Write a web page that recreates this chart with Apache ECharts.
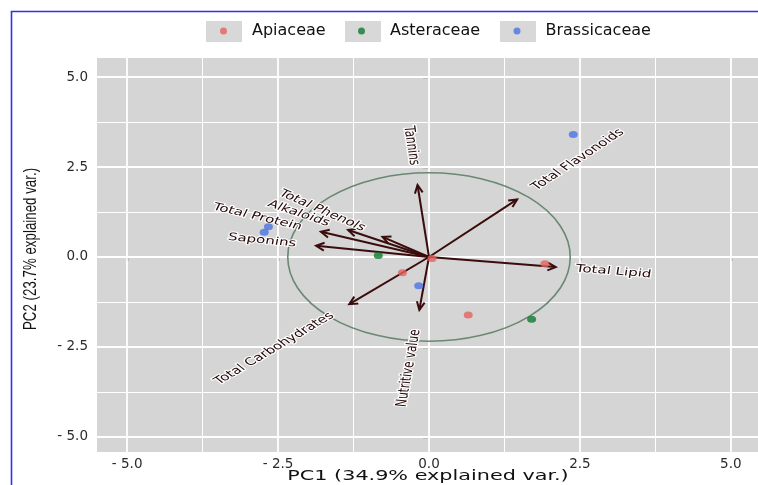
<!DOCTYPE html>
<html>
<head>
<meta charset="utf-8">
<script src="https://cdn.jsdelivr.net/npm/echarts@6/dist/echarts.min.js"></script>
<style>
  html, body { margin: 0; padding: 0; background: #ffffff; }
  #chart { width: 758px; height: 485px; }
</style>
</head>
<body>
<div id="chart"></div>
<script>
// PCA biplot of plant families: sample scores and variable loadings

const families = ['Apiaceae', 'Asteraceae', 'Brassicaceae'];
const familyColors = ['#e3625f', '#0c7a2e', '#4a74e2'];

// sample scores (PC1, PC2) per family
const apiaceaePC1 = [0.05, -0.44, 0.65, 1.92];
const apiaceaePC2 = [-0.04, -0.44, -1.61, -0.19];
const asteraceaePC1 = [-0.84, 1.70];
const asteraceaePC2 = [0.04, -1.73];
const brassicaceaePC1 = [2.39, -2.66, -2.73, -0.17];
const brassicaceaePC2 = [3.40, 0.84, 0.69, -0.80];

// variable loadings (arrow tips)
const variables = ['Tannins', 'Total Flavonoids', 'Total Lipid', 'Nutritive value',
  'Total Carbohydrates', 'Saponins', 'Total Protein', 'Alkaloids', 'Total Phenols'];
const loadingPC1 = [-0.19, 1.46, 2.10, -0.16, -1.32, -1.87, -1.79, -1.34, -0.77];
const loadingPC2 = [2.00, 1.60, -0.28, -1.47, -1.31, 0.31, 0.70, 0.75, 0.56];

// correlation circle radius
const circleRadius = 2.34;

// axis ticks
const majorTicks = [-5, -2.5, 0, 2.5, 5];
const minorTicks = [-3.75, -1.25, 1.25, 3.75];

const xTitle = 'PC1 (34.9% explained var.)';
const yTitle = 'PC2 (23.7% explained var.)';

const tickFormat = v => (v < 0 ? '- ' + Math.abs(v).toFixed(1) : v.toFixed(1));
const zip = (a, b) => a.map((v, i) => [v, b[i]]);

const scores = [
  zip(apiaceaePC1, apiaceaePC2),
  zip(asteraceaePC1, asteraceaePC2),
  zip(brassicaceaePC1, brassicaceaePC2)
];

const chart = echarts.init(document.getElementById('chart'), null, { renderer: 'canvas' });

const gridLines = [];
majorTicks.forEach(v => {
  gridLines.push({ xAxis: v, lineStyle: { width: 1.8 } });
  gridLines.push({ yAxis: v, lineStyle: { width: 1.8 } });
});
minorTicks.forEach(v => {
  gridLines.push({ xAxis: v, lineStyle: { width: 1.0 } });
  gridLines.push({ yAxis: v, lineStyle: { width: 1.0 } });
});

const legendCenters = [224.5, 362.5, 518];
const legends = families.map((name, i) => ({
  data: [{ name: name, icon: 'circle' }],
  left: legendCenters[i] - 4.5,
  top: 21,
  padding: 0,
  itemWidth: 9,
  itemHeight: 7,
  selectedMode: false,
  formatter: n => '{s|}' + n,
  textStyle: {
    fontFamily: 'DejaVu Sans',
    fontSize: 16,
    color: '#111111',
    lineHeight: 20,
    rich: { s: { width: 19, lineHeight: 20 } }
  }
}));

const keyBoxes = [206, 345, 500].map(x => ({
  type: 'rect',
  left: x,
  top: 21,
  z: -1,
  shape: { width: 36, height: 21 },
  style: { fill: '#d8d8d8' }
}));

function renderCircle(params, api) {
  const c = api.coord([0, 0]);
  const rx = api.size([circleRadius, 0])[0];
  const ry = api.size([0, circleRadius])[1];
  const d = 'M' + (c[0] - rx) + ' ' + c[1] +
    ' A' + rx + ' ' + ry + ' 0 1 0 ' + (c[0] + rx) + ' ' + c[1] +
    ' A' + rx + ' ' + ry + ' 0 1 0 ' + (c[0] - rx) + ' ' + c[1] + ' Z';
  return {
    type: 'path',
    shape: { pathData: d },
    style: { fill: 'none', stroke: '#6a8872', lineWidth: 1.6 }
  };
}

// labels are set a little wide and short, like the rest of the lettering
const labelScaleX = 1.12, labelScaleY = 0.78;
const arrowColor = '#3a0c0c';
function renderArrow(params, api) {
  const o = api.coord([0, 0]);
  const t = api.coord([api.value(0), api.value(1)]);
  const name = variables[api.value(2)];
  const dx = t[0] - o[0], dy = t[1] - o[1];
  const len = Math.sqrt(dx * dx + dy * dy);
  const ux = dx / len, uy = dy / len;
  const head = 9, ang = Math.PI / 7;
  const rot = (a) => [ux * Math.cos(a) - uy * Math.sin(a), ux * Math.sin(a) + uy * Math.cos(a)];
  const r1 = rot(ang), r2 = rot(-ang);
  const p1 = [t[0] - head * r1[0], t[1] - head * r1[1]];
  const p2 = [t[0] - head * r2[0], t[1] - head * r2[1]];
  // text reads along the arrow direction, starting just past the tip
  const gap = 20;
  const lx = t[0] + gap * ux, ly = t[1] + gap * uy;
  let theta = Math.atan2(-uy / labelScaleY, ux / labelScaleX);
  if (theta > Math.PI / 2) theta -= Math.PI;
  if (theta < -Math.PI / 2) theta += Math.PI;
  return {
    type: 'group',
    children: [
      {
        type: 'line',
        shape: { x1: o[0], y1: o[1], x2: t[0], y2: t[1] },
        style: { stroke: arrowColor, lineWidth: 2 }
      },
      {
        type: 'polyline',
        shape: { points: [p1, t, p2] },
        style: { stroke: arrowColor, lineWidth: 2, fill: 'none' }
      },
      {
        type: 'group',
        x: lx,
        y: ly,
        scaleX: labelScaleX,
        scaleY: labelScaleY,
        children: [{
          type: 'text',
          rotation: theta,
          style: {
            text: name,
            x: 0,
            y: 0,
            align: dx >= 0 ? 'left' : 'right',
            verticalAlign: 'middle',
            fill: '#250808',
            stroke: '#ffffff',
            lineWidth: 2.5,
            fontFamily: 'DejaVu Sans',
            fontSize: 13.5
          }
        }]
      }
    ]
  };
}

const option = {
  animation: false,
  backgroundColor: '#ffffff',
  legend: legends,
  graphic: keyBoxes.concat([
    {
      type: 'text',
      x: 31,
      y: 249,
      rotation: Math.PI / 2,
      scaleX: 0.74,
      silent: true,
      style: {
        text: yTitle,
        align: 'center',
        verticalAlign: 'middle',
        fontFamily: 'Liberation Sans',
        fontSize: 18,
        fill: '#111111'
      }
    },
    {
      type: 'text',
      x: 428,
      y: 476,
      scaleX: 1.22,
      scaleY: 0.86,
      silent: true,
      style: {
        text: xTitle,
        align: 'center',
        verticalAlign: 'middle',
        fontFamily: 'DejaVu Sans',
        fontSize: 17,
        fill: '#111111'
      }
    },
    {
      type: 'rect',
      left: 9,
      top: 9,
      z: 100,
      silent: true,
      shape: { width: 760, height: 490 },
      style: { fill: 'none', stroke: '#2f2ff5', lineWidth: 1.6 }
    }
  ]),
  grid: {
    left: 97,
    top: 58,
    width: 664,
    height: 394,
    outerBoundsMode: 'none',
    containLabel: false,
    show: true,
    backgroundColor: '#d5d5d5',
    borderWidth: 0
  },
  xAxis: {
    type: 'value',
    min: -5.5,
    max: 5.5,
    splitLine: { show: false },
    axisLine: { show: false },
    axisTick: {
      show: true,
      customValues: majorTicks,
      length: 4,
      lineStyle: { color: '#333333', width: 1.3 }
    },
    axisLabel: {
      customValues: majorTicks,
      formatter: tickFormat,
      margin: 5,
      fontFamily: 'DejaVu Sans',
      fontSize: 13.5,
      color: '#2a2a2a'
    }
  },
  yAxis: {
    type: 'value',
    min: -5.4167,
    max: 5.5278,
    splitLine: { show: false },
    axisLine: { show: false },
    axisTick: {
      show: true,
      customValues: majorTicks,
      length: 6,
      lineStyle: { color: '#333333', width: 1.3 }
    },
    axisLabel: {
      customValues: majorTicks,
      formatter: tickFormat,
      margin: 9,
      fontFamily: 'DejaVu Sans',
      fontSize: 13.5,
      color: '#2a2a2a'
    }
  },
  series: [
    {
      type: 'custom',
      name: 'circle',
      z: 2,
      silent: true,
      clip: false,
      data: [[0, 0]],
      renderItem: renderCircle,
      markLine: {
        z: 1,
        silent: true,
        symbol: 'none',
        label: { show: false },
        lineStyle: { color: '#ffffff', type: 'solid' },
        data: gridLines
      }
    },
    {
      type: 'custom',
      name: 'loadings',
      z: 3,
      silent: true,
      clip: false,
      data: variables.map((v, i) => [loadingPC1[i], loadingPC2[i], i]),
      encode: { x: 0, y: 1 },
      renderItem: renderArrow
    }
  ].concat(families.map((name, i) => ({
    type: 'scatter',
    name: name,
    z: 5,
    symbol: 'circle',
    symbolSize: [9, 7],
    itemStyle: { color: familyColors[i] },
    data: scores[i]
  })))
};

chart.setOption(option);
</script>
</body>
</html>
